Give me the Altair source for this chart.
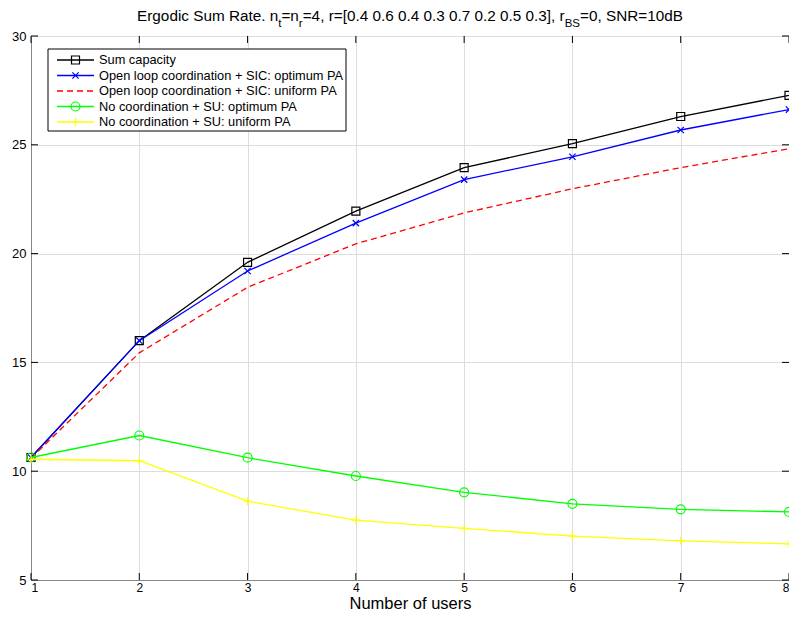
import altair as alt
import pandas as pd

# ---------------- data ----------------
users = [1, 2, 3, 4, 5, 6, 7, 8]
sum_capacity = [10.63, 16.0, 19.6, 21.95, 23.95, 25.05, 26.3, 27.27]
ol_sic_opt = [10.63, 16.0, 19.2, 21.4, 23.4, 24.45, 25.68, 26.62]
ol_sic_uni = [10.6, 15.44, 18.45, 20.45, 21.87, 22.98, 23.95, 24.82]
nc_su_opt = [10.63, 11.64, 10.62, 9.78, 9.03, 8.5, 8.25, 8.13]
nc_su_uni = [10.55, 10.48, 8.62, 7.75, 7.37, 7.02, 6.8, 6.66]

series_names = [
    "Sum capacity",
    "Open loop coordination + SIC: optimum PA",
    "Open loop coordination + SIC: uniform PA",
    "No coordination + SU: optimum PA",
    "No coordination + SU: uniform PA",
]
series_values = [sum_capacity, ol_sic_opt, ol_sic_uni, nc_su_opt, nc_su_uni]

x_ticks = [1, 2, 3, 4, 5, 6, 7, 8]
y_ticks = [5, 10, 15, 20, 25, 30]

title_parts = [
    ("Ergodic Sum Rate. n", False),
    ("t", True),
    ("=n", False),
    ("r", True),
    ("=4, r=[0.4 0.6 0.4 0.3 0.7 0.2 0.5 0.3], r", False),
    ("BS", True),
    ("=0, SNR=10dB", False),
]
x_title = "Number of users"

# ---------------- style ----------------
FONT = "Liberation Sans"
W, H = 758, 544
colors = ["#000000", "#0000ff", "#ff0000", "#00ff00", "#ffff00"]
dashes = [None, None, [6, 4], None, None]
X_PATH = "M-1,-1L1,1M-1,1L1,-1"
PLUS_PATH = "M-1,0H1M0,-1V1"
shapes = ["square", X_PATH, None, "circle", PLUS_PATH]
sizes = [64, 40, 0, 81, 64]

x_scale = alt.Scale(domain=[1, 8], nice=False, zero=False)
y_scale = alt.Scale(domain=[5, 30], nice=False, zero=False)
x_axis = alt.Axis(values=x_ticks, title=x_title, ticks=False, labelPadding=2,
                  labelFontSize=12, titleFontSize=16.5, titleFontWeight="normal",
                  titlePadding=2.5, format="d", grid=True)
y_axis = alt.Axis(values=y_ticks, title=None, ticks=False, labelPadding=5,
                  labelFontSize=13, format="d", grid=True)

layers = []

# inward tick marks (from tick lists)
xt = pd.DataFrame({"t": x_ticks})
yt = pd.DataFrame({"t": y_ticks})
tick_len = 7
layers.append(alt.Chart(xt).mark_rule(color="black", strokeWidth=1).encode(
    x=alt.X("t:Q", scale=x_scale, axis=x_axis), y=alt.value(H), y2=alt.value(H - tick_len)))
layers.append(alt.Chart(xt).mark_rule(color="black", strokeWidth=1).encode(
    x=alt.X("t:Q", scale=x_scale, axis=x_axis), y=alt.value(0), y2=alt.value(tick_len)))
layers.append(alt.Chart(yt).mark_rule(color="black", strokeWidth=1).encode(
    y=alt.Y("t:Q", scale=y_scale, axis=y_axis), x=alt.value(0), x2=alt.value(tick_len)))
layers.append(alt.Chart(yt).mark_rule(color="black", strokeWidth=1).encode(
    y=alt.Y("t:Q", scale=y_scale, axis=y_axis), x=alt.value(W), x2=alt.value(W - tick_len)))

# data series
for name, vals, col, dash, shp, sz in zip(series_names, series_values, colors, dashes, shapes, sizes):
    df = pd.DataFrame({"users": users, "rate": vals, "series": name})
    lkw = dict(color=col, strokeWidth=1.3)
    if dash:
        lkw["strokeDash"] = dash
    enc = dict(x=alt.X("users:Q", scale=x_scale, axis=x_axis),
               y=alt.Y("rate:Q", scale=y_scale, axis=y_axis))
    layers.append(alt.Chart(df).mark_line(**lkw).encode(**enc))
    if shp:
        layers.append(alt.Chart(df).mark_point(shape=shp, size=sz, filled=False,
                                               color=col, strokeWidth=1.2, opacity=1).encode(**enc))

# legend (manual, matlab style)
one = pd.DataFrame({"k": [0]})
layers.append(alt.Chart(one).mark_rect(fill="white", stroke="black", strokeWidth=1).encode(
    x=alt.value(17), x2=alt.value(315), y=alt.value(13), y2=alt.value(95)))
leg_y = [24, 39.5, 55, 70.5, 86]
for name, col, dash, shp, sz, ly in zip(series_names, colors, dashes, shapes, sizes, leg_y):
    ldf = pd.DataFrame({"label": [name]})
    rkw = dict(color=col, strokeWidth=1.3)
    if dash:
        rkw["strokeDash"] = dash
    layers.append(alt.Chart(ldf).mark_rule(**rkw).encode(
        x=alt.value(26), x2=alt.value(63), y=alt.value(ly)))
    if shp:
        layers.append(alt.Chart(ldf).mark_point(shape=shp, size=sz, filled=False, color=col,
                                                strokeWidth=1.2, opacity=1).encode(
            x=alt.value(44.5), y=alt.value(ly)))
    layers.append(alt.Chart(ldf).mark_text(align="left", baseline="middle", fontSize=12.8,
                                           font=FONT, color="black").encode(
        x=alt.value(68), y=alt.value(ly), text="label:N"))

# title with subscripts
AW = {" ": 278, ".": 278, ",": 278, "=": 584, "[": 278, "]": 278, "+": 584, ":": 278,
      "A": 667, "B": 667, "C": 722, "D": 722, "E": 667, "N": 722, "P": 667, "R": 722, "S": 667,
      "a": 556, "b": 556, "c": 500, "d": 556, "e": 556, "f": 278, "g": 556, "i": 222, "l": 222,
      "m": 833, "n": 556, "o": 556, "p": 556, "r": 333, "s": 500, "t": 278, "u": 556, "y": 500}
MAIN_FS, SUB_FS = 15.3, 11.5


def tw(s, fs):
    return sum(AW.get(ch, 556) for ch in s) * fs / 1000.0


total = sum(tw(s, SUB_FS if sub else MAIN_FS) for s, sub in title_parts)
cx = W / 2 - total / 2
for s, sub in title_parts:
    fs = SUB_FS if sub else MAIN_FS
    tdf = pd.DataFrame({"txt": [s]})
    layers.append(alt.Chart(tdf).mark_text(align="left", baseline="alphabetic", fontSize=fs,
                                           font=FONT, color="black").encode(
        x=alt.value(cx), y=alt.value(-9 if sub else -15), text="txt:N"))
    cx += tw(s, fs)

chart = alt.layer(*layers).properties(
    width=W, height=H,
    autosize=alt.AutoSizeParams(type="none"),
    padding={"left": 23, "top": 28, "right": 0, "bottom": 33},
).configure_view(stroke="black", strokeWidth=1).configure_axis(
    labelFont=FONT, titleFont=FONT, labelColor="black", titleColor="black",
    domainColor="black", domainWidth=1, gridColor="#777777", gridDash=[1, 3], gridWidth=1,
    gridOpacity=1,
).configure(background="white")

chart.save("out.html", embed_options={"renderer": "svg", "actions": False})
